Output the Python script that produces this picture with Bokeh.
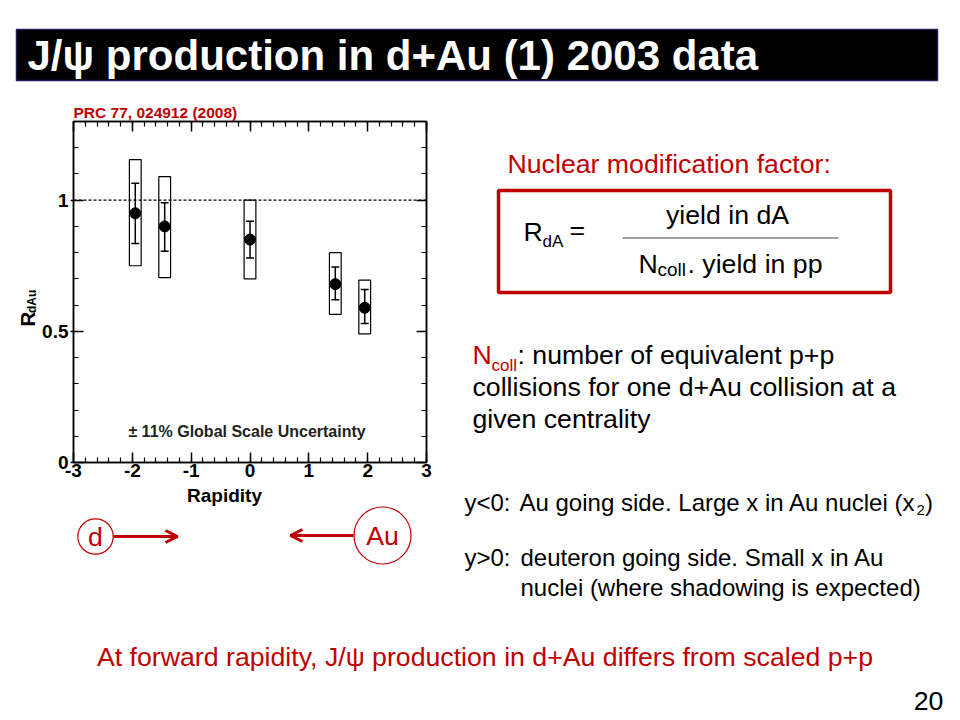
from bokeh.plotting import figure
from bokeh.models import (Range1d, LinearAxis, SingleIntervalTicker, CustomJSTickFormatter,
                          Whisker, TeeHead, ColumnDataSource, Span, Label, Arrow, OpenHead)
from bokeh.layouts import column, row
from bokeh.core.properties import value
from bokeh.embed import file_html
from bokeh.resources import INLINE

# ---------------- data ----------------
rapidity = [-1.95, -1.45, 0.0, 1.45, 1.95]
rdau = [0.95, 0.90, 0.85, 0.68, 0.59]
stat_lo = [0.835, 0.805, 0.78, 0.62, 0.53]
stat_hi = [1.065, 0.99, 0.92, 0.745, 0.66]
sys_lo = [0.75, 0.705, 0.70, 0.565, 0.49]
sys_hi = [1.155, 1.09, 1.00, 0.80, 0.695]
sys_halfwidth = 0.1
x_range_limits = [-3, 3]
y_range_limits = [0, 1.3]

title_text = "J/ψ production in d+Au (1) 2003 data"
ref_text = "PRC 77, 024912 (2008)"
scale_text = "± 11% Global Scale Uncertainty"
bottom_text = "At forward rapidity, J/ψ production in d+Au differs from scaled p+p"
page_number = "20"

RED = "#C00000"
FONT = "Liberation Sans"


def pixel_fig(w, h, flip=True):
    yr = Range1d(h, 0) if flip else Range1d(0, h)
    f = figure(width=w, height=h, x_range=Range1d(0, w), y_range=yr,
               output_backend="svg", toolbar_location=None, min_border=0,
               x_axis_location=None, y_axis_location=None)
    f.grid.visible = False
    f.outline_line_color = None
    return f


def txt(f, x, y, s, size=26.7, color="black", align="left", style="normal",
        baseline="middle", angle=0):
    f.text(x=[x], y=[y], text=[s], text_font=value(FONT), text_font_size=f"{size}px",
           text_color=color, text_align=align, text_baseline=baseline,
           text_font_style=style, angle=angle)


# ---------------- title ----------------
tf = pixel_fig(952, 100)
tf.quad(left=[16], right=[937], top=[29], bottom=[80], fill_color="black",
        line_color="#1f1f55", line_width=1.5)
txt(tf, 27, 55, title_text, size=42, color="white", style="bold")

# ---------------- chart ----------------
p = figure(width=407, height=385, x_range=Range1d(*x_range_limits),
           y_range=Range1d(*y_range_limits),
           output_backend="svg", toolbar_location=None,
           min_border_left=35, min_border_right=19, min_border_top=21, min_border_bottom=23)
p.grid.visible = False
p.outline_line_color = "black"
p.outline_line_width = 1.5
p.title.text = ref_text
p.title.text_font = FONT
p.title.text_font_style = "bold"
p.title.text_font_size = "15.5px"
p.title.text_color = RED
p.title.align = "left"
p.title.offset = 0
p.title.standoff = 1

p.xaxis.ticker = SingleIntervalTicker(interval=1, num_minor_ticks=5)
p.yaxis.ticker = SingleIntervalTicker(interval=0.5, num_minor_ticks=5)
p.xaxis.formatter = CustomJSTickFormatter(code="return String(tick)")
p.yaxis.formatter = CustomJSTickFormatter(code="return String(tick)")
for ax in (p.xaxis[0], p.yaxis[0]):
    ax.major_tick_in = 10
    ax.major_tick_out = 0
    ax.minor_tick_in = 5
    ax.minor_tick_out = 0
    ax.axis_line_width = 1.5
    ax.major_tick_line_width = 1.5
    ax.minor_tick_line_width = 1.2
    ax.major_label_text_font = FONT
    ax.major_label_text_font_style = "bold"
    ax.major_label_text_font_size = "19px"
    ax.major_label_text_color = "black"
    ax.major_label_standoff = 1
p.yaxis.major_tick_out = 3
p.yaxis.major_label_standoff = 2

top_ax = LinearAxis(ticker=SingleIntervalTicker(interval=1, num_minor_ticks=5),
                    formatter=CustomJSTickFormatter(code="return ''"))
right_ax = LinearAxis(ticker=SingleIntervalTicker(interval=0.5, num_minor_ticks=5),
                      formatter=CustomJSTickFormatter(code="return ''"))
for ax in (top_ax, right_ax):
    ax.major_tick_in = 10
    ax.major_tick_out = 0
    ax.minor_tick_in = 5
    ax.minor_tick_out = 0
    ax.axis_line_width = 1.5
    ax.major_tick_line_width = 1.5
    ax.minor_tick_line_width = 1.2
    ax.major_label_text_font_size = "1px"
    ax.major_label_standoff = 0
p.add_layout(top_ax, "above")
p.add_layout(right_ax, "right")

p.add_layout(Span(location=1, dimension="width", line_dash="3 2", line_width=1.2,
                  line_color="black"))

p.quad(left=[x - sys_halfwidth for x in rapidity], right=[x + sys_halfwidth for x in rapidity],
       bottom=sys_lo, top=sys_hi, fill_color=None, line_color="black", line_width=1.2)

src = ColumnDataSource(dict(x=rapidity, y=rdau, lo=stat_lo, hi=stat_hi))
p.add_layout(Whisker(source=src, base="x", lower="lo", upper="hi", line_width=1.5,
                     line_color="black",
                     upper_head=TeeHead(size=8, line_width=1.5, line_color="black"),
                     lower_head=TeeHead(size=8, line_width=1.5, line_color="black")))
p.scatter("x", "y", source=src, size=11, color="black")

p.add_layout(Label(x=-0.05, y=0.12, text=scale_text, text_font=FONT, text_font_style="bold",
                   text_font_size="16px", text_color="#222222", text_align="center",
                   text_baseline="middle"))

# y-axis title (rotated), normal (upward) y coordinates
yl = pixel_fig(38, 385, flip=False)
txt(yl, 26.5, 162, "R", size=20.5, style="bold", align="center", angle=1.5708)
txt(yl, 31.5, 182, "dAu", size=12, style="bold", align="center", angle=1.5708)

# ---------------- x title + d / Au arrows ----------------
af = pixel_fig(445, 135)
txt(af, 224, 10, "Rapidity", size=19, style="bold", align="center")
af.circle(x=[95, 382], y=[51, 50], radius=[17.7, 28.5], fill_color="white",
          line_color=RED, line_width=1.2)
txt(af, 95, 51, "d", color=RED, align="center")
txt(af, 382, 50, "Au", color=RED, align="center")
af.add_layout(Arrow(x_start=113, y_start=51, x_end=177, y_end=51, line_color=RED, line_width=3,
                    end=OpenHead(size=12, line_color=RED, line_width=3)))
af.add_layout(Arrow(x_start=353, y_start=50, x_end=290, y_end=50, line_color=RED, line_width=3,
                    end=OpenHead(size=12, line_color=RED, line_width=3)))

# ---------------- right text column ----------------
rf = pixel_fig(507, 520)
txt(rf, 62, 63, "Nuclear modification factor:", color=RED)
rf.quad(left=[53], right=[445], top=[90], bottom=[192], fill_color=None,
        line_color=RED, line_width=3.5)
txt(rf, 78, 131, "R")
txt(rf, 97, 141, "dA", size=17)
txt(rf, 124, 129, "=")
txt(rf, 282, 114, "yield in dA", align="center")
rf.segment(x0=[177], y0=[137.5], x1=[393], y1=[137.5], line_color="#444444", line_width=1)
txt(rf, 193, 163, "N")
txt(rf, 212, 169, "coll", size=19)
txt(rf, 242, 163, ". yield in pp")

txt(rf, 27, 254, "N", color=RED)
txt(rf, 46, 265, "coll", size=17, color=RED)
txt(rf, 72, 254, ": number of equivalent p+p")
txt(rf, 27, 286, "collisions for one d+Au collision at a")
txt(rf, 27, 318, "given centrality")

txt(rf, 19, 402, "y<0:", size=24)
txt(rf, 74, 402, "Au going side. Large x in Au nuclei (x", size=24)
txt(rf, 471, 409, "2", size=15)
txt(rf, 479.5, 402, ")", size=24)
txt(rf, 19, 457, "y>0:", size=24)
txt(rf, 75, 457, "deuteron going side. Small x in Au", size=24)
txt(rf, 75, 487, "nuclei (where shadowing is expected)", size=24)

# ---------------- bottom ----------------
bf = pixel_fig(952, 100)
txt(bf, 484.5, 36, bottom_text, color=RED, align="center")
txt(bf, 928, 80, page_number, align="center")

layout = column(tf, row(column(row(yl, p), af), rf), bf)
open("out.html", "w").write(file_html(layout, INLINE))
